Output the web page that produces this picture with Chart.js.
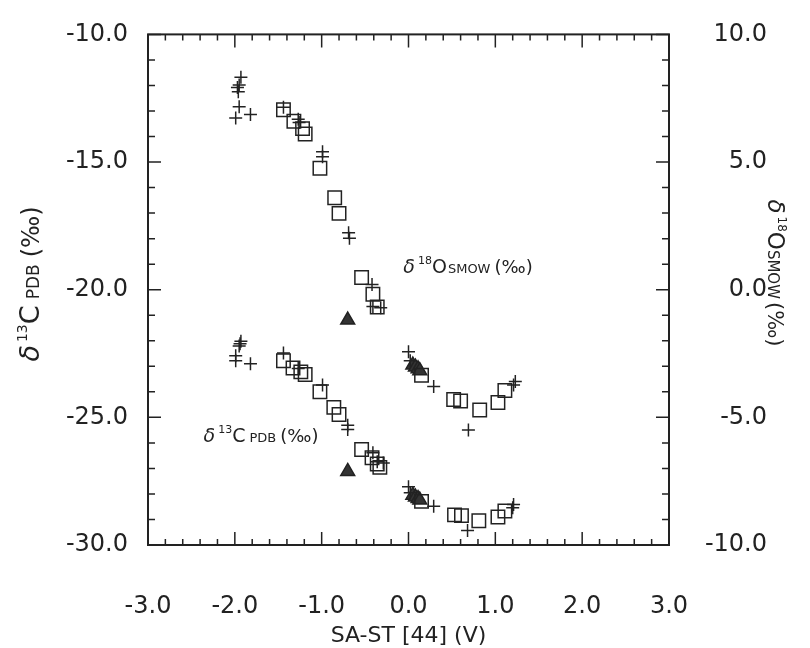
<!DOCTYPE html>
<html lang="ja">
<head>
  <meta charset="UTF-8">
  <title>SA-ST vs isotope ratios</title>
  <script src="https://cdn.jsdelivr.net/npm/chart.js"></script>
  <style>
    html, body { margin: 0; padding: 0; background: #fff; }
    #wrap { width: 810px; height: 648px; }
  </style>
</head>
<body>
  <div id="wrap"><canvas id="chart" width="810" height="648"></canvas></div>
  <script>
    // delta 18O (SMOW), read on the right axis
    const o18CrossX = [-1.93, -1.95, -1.97, -1.96, -1.95, -1.99, -1.82, -1.44, -1.27, -1.26, -0.99, -0.99, -0.69, -0.68, -0.42, -0.41, -0.32, 0.0, 0.02, 0.29, 0.69, 1.23, 1.21];
    const o18CrossY = [8.32, 8.02, 7.92, 7.75, 7.17, 6.73, 6.86, 7.15, 6.68, 6.55, 5.40, 5.21, 2.23, 2.02, 0.20, -0.66, -0.71, -2.43, -2.78, -3.79, -5.50, -3.60, -3.73];
    const o18SquareX = [-1.44, -1.32, -1.22, -1.19, -1.02, -0.85, -0.80, -0.54, -0.41, -0.36, 0.15, 0.52, 0.60, 0.82, 1.03, 1.11];
    const o18SquareY = [7.05, 6.60, 6.31, 6.10, 4.76, 3.60, 2.99, 0.48, -0.18, -0.68, -3.35, -4.30, -4.36, -4.71, -4.42, -3.95];
    const o18TriX = [-0.70, 0.05, 0.08, 0.11, 0.13];
    const o18TriY = [-1.19, -2.95, -3.03, -3.10, -3.17];

    // delta 13C (PDB), read on the left axis
    const c13CrossX = [-1.93, -1.94, -1.95, -1.99, -1.99, -1.82, -1.44, -1.27, -0.99, -0.70, -0.70, -0.41, -0.36, -0.29, 0.0, 0.02, 0.29, 0.68, 1.21, 1.20];
    const c13CrossY = [-22.02, -22.12, -22.21, -22.59, -22.78, -22.90, -22.48, -23.09, -23.73, -25.31, -25.48, -26.39, -26.74, -26.79, -27.72, -27.95, -28.48, -29.43, -28.41, -28.54];
    const c13SquareX = [-1.44, -1.33, -1.24, -1.19, -1.02, -0.86, -0.80, -0.54, -0.42, -0.36, -0.33, 0.15, 0.53, 0.61, 0.81, 1.03, 1.11];
    const c13SquareY = [-22.78, -23.07, -23.22, -23.32, -24.00, -24.61, -24.89, -26.26, -26.58, -26.83, -26.96, -28.29, -28.82, -28.85, -29.05, -28.90, -28.67];
    const c13TriX = [-0.70, 0.05, 0.08, 0.11, 0.13];
    const c13TriY = [-27.12, -28.05, -28.12, -28.18, -28.24];

    const xTicks = [-3, -2, -1, 0, 1, 2, 3];
    const leftTicks = [-30, -25, -20, -15, -10];
    const rightTicks = [-10, -5, 0, 5, 10];

    const FONT = '"DejaVu Sans", sans-serif';
    const INK = '#222';

    function pts(xs, ys) {
      return xs.map((x, i) => ({ x: x, y: ys[i] }));
    }

    function marks(label, xs, ys, axis, style) {
      let ds = {
        label: label,
        data: pts(xs, ys),
        yAxisID: axis,
        pointStyle: style,
        borderColor: INK,
        backgroundColor: style === 'triangle' ? '#333' : 'rgba(0,0,0,0)',
        borderWidth: 1.5,
        pointRadius: 6.5
      };
      if (style === 'rect') ds.pointRadius = 9.5;
      if (style === 'triangle') ds.pointRadius = 8;
      return ds;
    }

    // draws a label made of pieces (sup/sub scripts) centered on cx,cy
    function richText(ctx, parts, cx, cy, angle) {
      ctx.save();
      ctx.translate(cx, cy);
      ctx.rotate(angle);
      ctx.fillStyle = INK;
      ctx.textBaseline = 'alphabetic';
      let total = 0;
      parts.forEach(p => {
        ctx.font = (p.italic ? 'italic ' : '') + p.size + 'px ' + FONT;
        p.w = ctx.measureText(p.t).width;
        total += p.w + (p.gap || 0);
      });
      let x = -total / 2;
      parts.forEach(p => {
        ctx.font = (p.italic ? 'italic ' : '') + p.size + 'px ' + FONT;
        ctx.fillText(p.t, x, 8 + (p.dy || 0));
        x += p.w + (p.gap || 0);
      });
      ctx.restore();
    }

    const frame = {
      id: 'frame',
      afterDraw(chart) {
        const ctx = chart.ctx;
        const a = chart.chartArea;
        const xs = chart.scales.x, yl = chart.scales.y, yr = chart.scales.yR;
        ctx.save();
        ctx.strokeStyle = INK;
        ctx.lineWidth = 1.5;
        ctx.beginPath();
        for (let i = -15; i <= 15; i++) {
          const px = xs.getPixelForValue(i / 5);
          const len = i % 5 === 0 ? 13 : 6;
          ctx.moveTo(px, a.bottom); ctx.lineTo(px, a.bottom - len);
          ctx.moveTo(px, a.top); ctx.lineTo(px, a.top + len);
        }
        for (let v = -30; v <= -10; v++) {
          const py = yl.getPixelForValue(v);
          ctx.moveTo(a.left, py); ctx.lineTo(a.left + (v % 5 === 0 ? 13 : 7), py);
        }
        for (let v = -10; v <= 10; v++) {
          const py = yr.getPixelForValue(v);
          ctx.moveTo(a.right, py); ctx.lineTo(a.right - (v % 5 === 0 ? 13 : 7), py);
        }
        ctx.stroke();
        ctx.lineWidth = 2;
        ctx.strokeRect(a.left, a.top, a.right - a.left, a.bottom - a.top);
        ctx.restore();

        // axis titles
        ctx.save();
        ctx.fillStyle = INK;
        ctx.font = '22px ' + FONT;
        ctx.textAlign = 'center';
        ctx.textBaseline = 'middle';
        ctx.fillText('SA-ST [44] (V)', (a.left + a.right) / 2, 636);
        ctx.restore();

        richText(ctx, [
          { t: 'δ', size: 27, italic: true, gap: 3 },
          { t: '13', size: 14, dy: -12 },
          { t: 'C', size: 27, gap: 6 },
          { t: 'PDB', size: 17, gap: 7 },
          { t: '(‰)', size: 24 }
        ], 31, 284, -Math.PI / 2);

        richText(ctx, [
          { t: 'δ', size: 23, italic: true, gap: 3 },
          { t: '18', size: 12, dy: -10 },
          { t: 'O', size: 23 },
          { t: 'SMOW', size: 15, gap: 3 },
          { t: '(‰)', size: 21 }
        ], 776, 273, Math.PI / 2);

        // in-plot labels
        richText(ctx, [
          { t: 'δ', size: 19, italic: true, gap: 3 },
          { t: '18', size: 11, dy: -9 },
          { t: 'O', size: 19, gap: 1 },
          { t: 'SMOW', size: 13, gap: 4 },
          { t: '(‰)', size: 18 }
        ], 468, 265, 0);

        richText(ctx, [
          { t: 'δ', size: 19, italic: true, gap: 3 },
          { t: '13', size: 11, dy: -9 },
          { t: 'C', size: 19, gap: 4 },
          { t: 'PDB', size: 13, gap: 4 },
          { t: '(‰)', size: 18 }
        ], 261, 434, 0);
      }
    };

    const fmt = v => Number(v).toFixed(1);
    const tickFont = { family: FONT, size: 24 };

    new Chart(document.getElementById('chart'), {
      type: 'scatter',
      data: {
        datasets: [
          marks('O18 +', o18CrossX, o18CrossY, 'yR', 'cross'),
          marks('O18 sq', o18SquareX, o18SquareY, 'yR', 'rect'),
          marks('O18 tri', o18TriX, o18TriY, 'yR', 'triangle'),
          marks('C13 +', c13CrossX, c13CrossY, 'y', 'cross'),
          marks('C13 sq', c13SquareX, c13SquareY, 'y', 'rect'),
          marks('C13 tri', c13TriX, c13TriY, 'y', 'triangle')
        ]
      },
      options: {
        responsive: false,
        animation: false,
        devicePixelRatio: 1,
        layout: { padding: { top: 19, right: 43, left: 0, bottom: 0 } },
        plugins: { legend: { display: false }, tooltip: { enabled: false } },
        scales: {
          x: {
            type: 'linear', min: -3, max: 3,
            afterBuildTicks: s => { s.ticks = xTicks.map(v => ({ value: v })); },
            afterFit: s => { s.height = 103; },
            grid: { display: false },
            border: { display: false },
            ticks: { color: INK, font: tickFont, padding: 39, callback: fmt, maxRotation: 0 }
          },
          y: {
            type: 'linear', position: 'left', min: -30, max: -10,
            afterBuildTicks: s => { s.ticks = leftTicks.map(v => ({ value: v })); },
            afterFit: s => { s.width = 148; },
            grid: { display: false },
            border: { display: false },
            ticks: { color: INK, font: tickFont, padding: 12, callback: fmt }
          },
          yR: {
            type: 'linear', position: 'right', min: -10, max: 10,
            afterBuildTicks: s => { s.ticks = rightTicks.map(v => ({ value: v })); },
            afterFit: s => { s.width = 98; },
            grid: { display: false },
            border: { display: false },
            ticks: { color: INK, font: tickFont, padding: 20, crossAlign: 'far', callback: fmt }
          }
        }
      },
      plugins: [frame]
    });
  </script>
</body>
</html>
